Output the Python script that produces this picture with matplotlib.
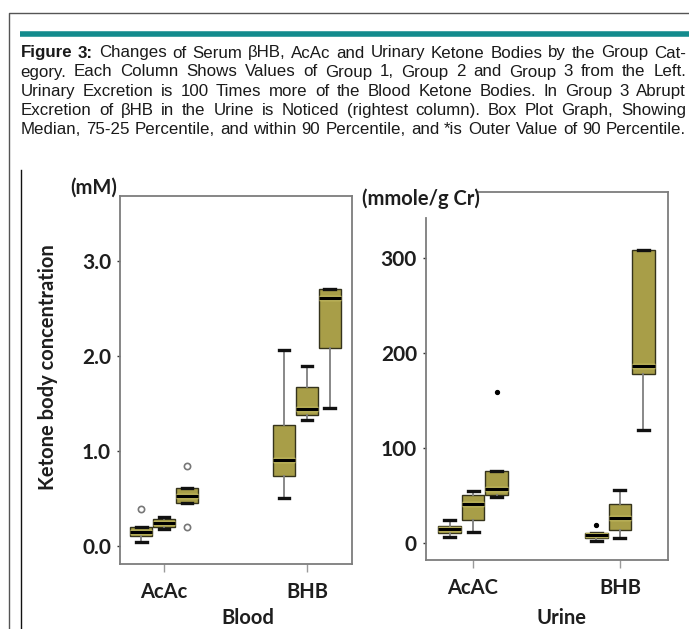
import matplotlib
matplotlib.use("Agg")
import matplotlib.pyplot as plt
import matplotlib.patheffects as pe
from matplotlib.lines import Line2D

W, H = 689, 629
DPI = 100

# ---------------- data ----------------
group_names = ["Group 1", "Group 2", "Group 3"]
blood_categories = ["AcAc", "BHB"]
urine_categories = ["AcAC", "BHB"]
blood_yticks = [0.0, 1.0, 2.0, 3.0]
blood_yticklabels = ["0.0", "1.0", "2.0", "3.0"]
urine_yticks = [0, 100, 200, 300]
urine_yticklabels = ["0", "100", "200", "300"]

# Blood AcAc (mM), groups 1-3
blood_acac_whislo = [0.045, 0.18, 0.45]
blood_acac_q1 = [0.10, 0.20, 0.45]
blood_acac_med = [0.15, 0.245, 0.53]
blood_acac_q3 = [0.20, 0.28, 0.61]
blood_acac_whishi = [0.20, 0.30, 0.61]
blood_acac_fliers = [[0.386], [], [0.20, 0.84]]

# Blood BHB (mM)
blood_bhb_whislo = [0.51, 1.33, 1.45]
blood_bhb_q1 = [0.737, 1.38, 2.08]
blood_bhb_med = [0.905, 1.44, 2.61]
blood_bhb_q3 = [1.27, 1.67, 2.71]
blood_bhb_whishi = [2.06, 1.89, 2.71]
blood_bhb_fliers = [[], [], []]

# Urine AcAC (mmole/g Cr)
urine_acac_whislo = [6.4, 10.8, 48.6]
urine_acac_q1 = [10.6, 23.8, 50.6]
urine_acac_med = [14.0, 41.2, 56.3]
urine_acac_q3 = [17.6, 49.8, 75.3]
urine_acac_whishi = [23.5, 54.8, 75.3]
urine_acac_fliers = [[], [], [158.6]]

# Urine BHB (mmole/g Cr)
urine_bhb_whislo = [2.0, 4.4, 119.4]
urine_bhb_q1 = [5.0, 13.4, 178.1]
urine_bhb_med = [7.8, 25.7, 186.2]
urine_bhb_q3 = [9.9, 41.0, 308.5]
urine_bhb_whishi = [9.9, 56.0, 308.5]
urine_bhb_fliers = [[19.0], [], []]

caption_lines = [
    "Figure 3: Changes of Serum βHB, AcAc and Urinary Ketone Bodies by the Group Cat-",
    "egory. Each Column Shows Values of Group 1, Group 2 and Group 3 from the Left.",
    "Urinary Excretion is 100 Times more of the Blood Ketone Bodies. In Group 3 Abrupt",
    "Excretion of βHB in the Urine is Noticed (rightest column). Box Plot Graph, Showing",
    "Median, 75-25 Percentile, and within 90 Percentile, and *is Outer Value of 90 Percentile.",
]

# ---------------- styling ----------------
LBL_FONT = ["Lato", "DejaVu Sans"]
TXT = "#1e1e1e"
BOX_FACE = "#a89e48"
BOX_EDGE = "#35331c"
SPINE = "#7d7d7d"
OFFSETS = [-0.16, 0.0, 0.16]
BOX_W = 0.155


def fx(x):
    return x / W


def fy(y):
    return 1 - y / H


def make_stats(whislo, q1, med, q3, whishi, fliers):
    out = []
    for i in range(len(med)):
        out.append(dict(whislo=whislo[i], q1=q1[i], med=med[i], q3=q3[i],
                        whishi=whishi[i], fliers=fliers[i]))
    return out


fig = plt.figure(figsize=(W / DPI, H / DPI), dpi=DPI)
fig.patch.set_facecolor("white")

# ---------------- frame lines / teal bar ----------------
fig.add_artist(Line2D([fx(9), fx(9), fx(W + 5)], [fy(H + 5), fy(13), fy(13)],
                      color="#555555", lw=1.0, transform=fig.transFigure))
fig.add_artist(Line2D([fx(20), fx(W + 5)], [fy(34.2), fy(34.2)],
                      color="#138b8d", lw=4.0, solid_capstyle="butt",
                      transform=fig.transFigure))
fig.add_artist(Line2D([fx(21), fx(21)], [fy(170), fy(H + 5)],
                      color="#111111", lw=1.0, transform=fig.transFigure))

# ---------------- caption (justified) ----------------
fig.canvas.draw()
renderer = fig.canvas.get_renderer()
cap_family = ["Liberation Sans", "DejaVu Sans"]
baselines = [57.5, 76.5, 95.8, 115.0, 134.2]
x0c, x1c = 20.5, 686.0


def line_width(line, fs):
    t = fig.text(0, 0, line, fontsize=fs, family=cap_family)
    w = t.get_window_extent(renderer).width
    t.remove()
    return w


cap_fs = 14.0
while cap_fs > 8 and max(line_width(l, cap_fs) for l in caption_lines) > (x1c - x0c) * 0.995:
    cap_fs -= 0.1

for li, line in enumerate(caption_lines):
    words = line.split(" ")
    texts, widths = [], []
    for wi, wd in enumerate(words):
        bold = (li == 0 and wi < 2)
        t = fig.text(0, 0, wd, fontsize=cap_fs, family=cap_family,
                     fontweight="bold" if bold else "normal",
                     color="#1a1a1a", ha="left", va="baseline")
        widths.append(t.get_window_extent(renderer).width)
        texts.append(t)
    gap = (x1c - x0c - sum(widths)) / (len(texts) - 1)
    x = x0c
    for t, wdt in zip(texts, widths):
        t.set_position((fx(x), fy(baselines[li])))
        x += wdt + gap

# ---------------- panels ----------------
def style_axes(ax):
    for s in ax.spines.values():
        s.set_color(SPINE)
        s.set_linewidth(1.3)
    ax.tick_params(axis="y", length=2.5, width=1.0, color="#333333", pad=4,
                   labelsize=15, labelcolor=TXT)
    ax.tick_params(axis="x", length=6, width=1.0, color="#9a9a9a", pad=7,
                   labelsize=14.5, labelcolor=TXT)
    for lab in ax.get_xticklabels() + ax.get_yticklabels():
        lab.set_family(LBL_FONT)
        lab.set_fontweight("bold")


median_props = dict(color="black", linewidth=2.4,
                    path_effects=[pe.Stroke(linewidth=3.9, foreground="#d9cf6a"),
                                  pe.Normal()])
box_props = dict(facecolor=BOX_FACE, edgecolor=BOX_EDGE, linewidth=1.0)
whisker_props = dict(color="#7f7f7f", linewidth=1.3)
cap_props = dict(color="#111111", linewidth=2.4)


def draw_panel(ax, cat_stats, fl_props):
    for ci, stats in enumerate(cat_stats):
        pos = [ci + 1 + o for o in OFFSETS]
        ax.bxp(stats, positions=pos, widths=BOX_W, capwidths=0.075,
               patch_artist=True, showfliers=True, manage_ticks=False,
               boxprops=box_props, medianprops=median_props,
               whiskerprops=whisker_props, capprops=cap_props,
               flierprops=fl_props)


# Left: Blood
axL = fig.add_axes([fx(120), fy(564), (352 - 120) / W, (564 - 196) / H])
blood_stats = [
    make_stats(blood_acac_whislo, blood_acac_q1, blood_acac_med,
               blood_acac_q3, blood_acac_whishi, blood_acac_fliers),
    make_stats(blood_bhb_whislo, blood_bhb_q1, blood_bhb_med,
               blood_bhb_q3, blood_bhb_whishi, blood_bhb_fliers),
]
draw_panel(axL, blood_stats,
           dict(marker="o", markerfacecolor="white", markeredgecolor="#777777",
                markersize=4.5, markeredgewidth=1.2, linestyle="none"))
axL.set_xlim(0.692, 2.315)
axL.set_ylim(-0.19, 3.685)
axL.set_yticks(blood_yticks)
axL.set_yticklabels(blood_yticklabels)
axL.set_xticks([1, 2])
axL.set_xticklabels(blood_categories)
style_axes(axL)

# Right: Urine
axR = fig.add_axes([fx(426), fy(560), (668 - 426) / W, (560 - 192) / H])
urine_stats = [
    make_stats(urine_acac_whislo, urine_acac_q1, urine_acac_med,
               urine_acac_q3, urine_acac_whishi, urine_acac_fliers),
    make_stats(urine_bhb_whislo, urine_bhb_q1, urine_bhb_med,
               urine_bhb_q3, urine_bhb_whishi, urine_bhb_fliers),
]
draw_panel(axR, urine_stats,
           dict(marker="o", markerfacecolor="black", markeredgecolor="black",
                markersize=2.8, linestyle="none"))
axR.set_xlim(0.68, 2.327)
axR.set_ylim(-18.3, 370.2)
axR.set_yticks(urine_yticks)
axR.set_yticklabels(urine_yticklabels)
axR.set_xticks([1, 2])
axR.set_xticklabels(urine_categories)
style_axes(axR)
axR.spines["left"].set_bounds(-18.3, 343)
axR.spines["top"].set_bounds(1.03, 2.327)

# ---------------- labels ----------------
lab_kw = dict(family=LBL_FONT, fontweight="bold", color=TXT, fontsize=14.5)
fig.text(fx(117), fy(188), "(mM)", ha="right", va="center", **lab_kw)
fig.text(fx(362), fy(199), "(mmole/g Cr)", ha="left", va="center", **lab_kw)
fig.text(fx(48), fy(367), "Ketone body concentration", rotation=90,
         ha="center", va="center", family=LBL_FONT, fontweight="bold",
         color=TXT, fontsize=14.5)
fig.text(fx(248), fy(618), "Blood", ha="center", va="center", **lab_kw)
fig.text(fx(562), fy(618), "Urine", ha="center", va="center", **lab_kw)

fig.savefig("out.png", dpi=DPI, facecolor="white")
